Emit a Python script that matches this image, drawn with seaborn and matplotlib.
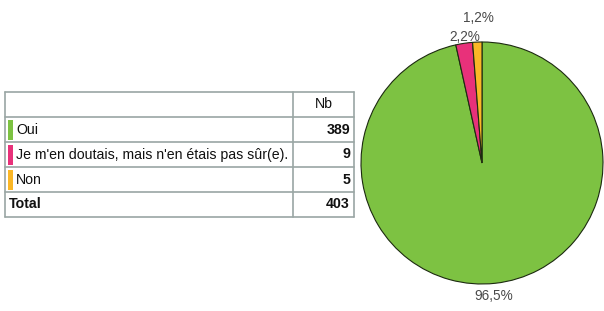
#!/usr/bin/env python3
"""Pie chart + count table for a single survey question."""

import matplotlib

matplotlib.use("Agg")
import matplotlib.pyplot as plt
from matplotlib.patches import Rectangle
import seaborn as sns

# Data
categories = ["Oui", "Je m'en doutais, mais n'en étais pas sûr(e).", "Non"]
counts = [389, 9, 5]
pct_labels = ["96,5%", "2,2%", "1,2%"]
colors = ["#7dc242", "#e8317a", "#fbb726"]
header = "Nb"
total_label = "Total"

W, H = 604, 311
BORDER = "#9aa6a4"


def draw_table(fig):
    # table box in pixels: x 5..354, y 92..217
    left, top, width, height = 5, 92, 349, 125
    ax = fig.add_axes([left / W, (H - top - height) / H, width / W, height / H])
    ax.set_xlim(0, width)
    ax.set_ylim(5, 0)
    ax.axis("off")

    col_split = 288
    nrows = len(categories) + 2
    for i in range(nrows + 1):
        ax.plot([0, width], [i, i], color=BORDER, lw=1.2, clip_on=False)
    for x in (0, col_split, width):
        ax.plot([x, x], [0, nrows], color=BORDER, lw=1.2, clip_on=False)

    txt = dict(fontsize=10.2, color="#111111", va="center")
    ax.text((col_split + width) / 2, 0.5, header, ha="center", **txt)
    for i, (cat, n, c) in enumerate(zip(categories, counts, colors), start=1):
        ax.add_patch(Rectangle((3, i + 0.1), 4.5, 0.8, color=c, lw=0))
        ax.text(11, i + 0.5, cat, ha="left", **txt)
        ax.text(width - 4, i + 0.5, str(n), ha="right", fontweight="bold", **txt)
    ax.text(4, nrows - 0.5, total_label, ha="left", fontweight="bold", **txt)
    ax.text(width - 4, nrows - 0.5, str(sum(counts)), ha="right",
            fontweight="bold", **txt)


def draw_pie(fig):
    cx, cy, r = 482, 163, 121
    lim = 1.3
    side = 2 * lim * r
    ax = fig.add_axes([(cx - side / 2) / W, (H - cy - side / 2) / H, side / W, side / H])
    wedges, texts = ax.pie(
        counts,
        labels=pct_labels,
        colors=colors,
        startangle=90,
        counterclock=False,
        wedgeprops=dict(edgecolor="#1c2a10", linewidth=0.8),
        textprops=dict(fontsize=9.8, color="#4a4a4a"),
    )
    # label placement as in the reference (small slices stacked above the pie)
    for t, pos in zip(texts, [(0.1, -1.1), (-0.14, 1.04), (-0.03, 1.2)]):
        t.set_position(pos)
        t.set_ha("center")
        t.set_va("center")
    ax.set_xlim(-lim, lim)
    ax.set_ylim(-lim, lim)
    ax.set_aspect("equal")
    ax.axis("off")


def main():
    sns.set_theme(style="white")
    plt.rcParams["font.family"] = ["Liberation Sans", "DejaVu Sans"]
    fig = plt.figure(figsize=(W / 100, H / 100), dpi=100)
    fig.patch.set_facecolor("white")
    draw_table(fig)
    draw_pie(fig)
    fig.savefig("out.png", dpi=100)
    plt.close(fig)


if __name__ == "__main__":
    main()
